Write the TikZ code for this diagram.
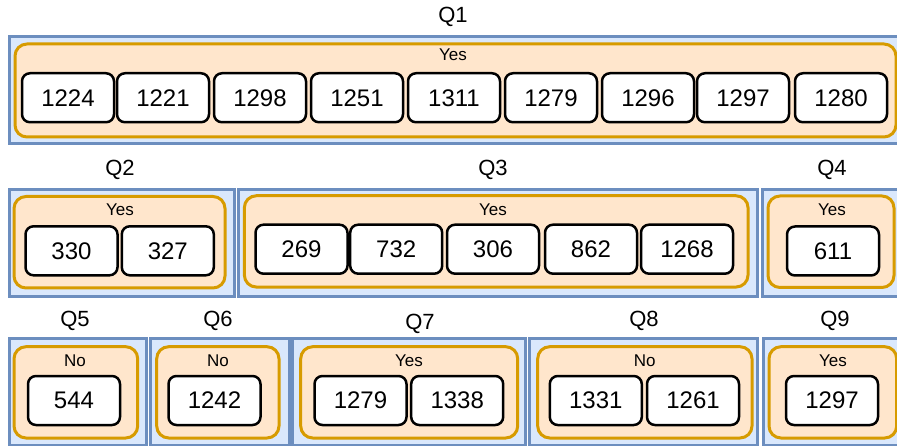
\documentclass[tikz,border=0pt]{standalone}
\usepackage{fontspec}
\setmainfont{Liberation Sans}
\usetikzlibrary{positioning}
\definecolor{qfill}{HTML}{DAE8FC}
\definecolor{qline}{HTML}{6C8EBF}
\definecolor{afill}{HTML}{FFE6CC}
\definecolor{aline}{HTML}{D79B00}

\begin{document}
\begin{tikzpicture}[x=1pt, y=-1pt,
    question/.style={draw=qline, fill=qfill, line width=3pt, rectangle, inner sep=0pt},
    answer/.style={draw=aline, fill=afill, line width=3pt, rectangle, rounded corners=12pt, inner sep=0pt},
    item/.style={draw=black, fill=white, line width=2.5pt, rectangle, rounded corners=8pt, minimum width=92pt, minimum height=49pt, inner sep=0pt, font=\fontsize{24}{28}\selectfont},
    qlabel/.style={inner sep=0pt, font=\fontsize{22}{26}\selectfont},
    alabel/.style={inner sep=0pt, font=\fontsize{17}{20}\selectfont}
  ]
  \useasboundingbox (0,0) rectangle (897,446);
  \clip (0,0) rectangle (897,446);

  % Q1
  \node[qlabel] (q1lbl) at (453, 17) {Q1};
  \node[question, minimum width=896pt, minimum height=106.5pt] (q1) at (457, 90.25) {};
  \node[answer, minimum width=881pt, minimum height=93pt] (q1ans) at (455.5, 90.5) {};
  \node[alabel] (q1yes) at (453, 55) {Yes};
  \node[item] (q1a) at (68, 97.75) {1224};
  \node[item] (q1b) at (163, 97.75) {1221};
  \node[item] (q1c) at (260, 97.75) {1298};
  \node[item] (q1d) at (357, 97.75) {1251};
  \node[item] (q1e) at (454, 97.75) {1311};
  \node[item] (q1f) at (551, 97.75) {1279};
  \node[item] (q1g) at (648, 97.75) {1296};
  \node[item] (q1h) at (743, 97.75) {1297};
  \node[item] (q1i) at (841, 97.75) {1280};

  % Q2 .. Q4
  \node[qlabel] (q2lbl) at (120, 170) {Q2};
  \node[question, minimum width=224.5pt, minimum height=107pt] (q2) at (121.75, 243) {};
  \node[answer, minimum width=211pt, minimum height=91.5pt] (q2ans) at (119.5, 242.25) {};
  \node[alabel] (q2yes) at (120, 210) {Yes};
  \node[item] (q2a) at (71.5, 250.8) {330};
  \node[item] (q2b) at (167.8, 250.8) {327};

  \node[qlabel] (q3lbl) at (493, 170) {Q3};
  \node[question, minimum width=519pt, minimum height=106.5pt] (q3) at (497.5, 243.25) {};
  \node[answer, minimum width=503.7pt, minimum height=91.3pt] (q3ans) at (496.2, 241.4) {};
  \node[alabel] (q3yes) at (493, 210) {Yes};
  \node[item] (q3a) at (301.5, 249.2) {269};
  \node[item] (q3b) at (396.2, 249.2) {732};
  \node[item] (q3c) at (493, 249.2) {306};
  \node[item] (q3d) at (591, 249.2) {862};
  \node[item] (q3e) at (687, 249.2) {1268};

  \node[qlabel] (q4lbl) at (832, 170) {Q4};
  \node[question, minimum width=143pt, minimum height=106.5pt] (q4) at (833.5, 243.25) {};
  \node[answer, minimum width=126pt, minimum height=91.5pt] (q4ans) at (831, 241.75) {};
  \node[alabel] (q4yes) at (832, 210) {Yes};
  \node[item] (q4a) at (833, 251) {611};

  % Q5 .. Q9
  \node[qlabel] (q5lbl) at (75, 321) {Q5};
  \node[question, minimum width=137.2pt, minimum height=106pt] (q5) at (78.1, 392) {};
  \node[answer, minimum width=123.7pt, minimum height=91.3pt] (q5ans) at (75.85, 392.35) {};
  \node[alabel] (q5no) at (75, 361) {No};
  \node[item] (q5a) at (74, 400.5) {544};

  \node[qlabel] (q6lbl) at (218, 321) {Q6};
  \node[question, minimum width=138.3pt, minimum height=106pt] (q6) at (219.85, 392) {};
  \node[answer, minimum width=122.3pt, minimum height=91.3pt] (q6ans) at (217.85, 392.35) {};
  \node[alabel] (q6no) at (218, 361) {No};
  \node[item] (q6a) at (214.5, 400.5) {1242};

  \node[qlabel] (q7lbl) at (420, 324) {Q7};
  \node[question, minimum width=232.3pt, minimum height=106pt] (q7) at (408.85, 392) {};
  \node[answer, minimum width=217pt, minimum height=91.3pt] (q7ans) at (409.2, 392.35) {};
  \node[alabel] (q7yes) at (409, 361) {Yes};
  \node[item] (q7a) at (360.5, 400.5) {1279};
  \node[item] (q7b) at (457.2, 400.5) {1338};

  \node[qlabel] (q8lbl) at (644, 321) {Q8};
  \node[question, minimum width=228.7pt, minimum height=106pt] (q8) at (643.35, 392) {};
  \node[answer, minimum width=214.3pt, minimum height=91.3pt] (q8ans) at (644.85, 392.35) {};
  \node[alabel] (q8no) at (644.7, 361) {No};
  \node[item] (q8a) at (595.8, 400.5) {1331};
  \node[item] (q8b) at (693, 400.5) {1261};

  \node[qlabel] (q9lbl) at (835, 321) {Q9};
  \node[question, minimum width=142pt, minimum height=106pt] (q9) at (834, 392) {};
  \node[answer, minimum width=127.7pt, minimum height=91.3pt] (q9ans) at (832.85, 392.35) {};
  \node[alabel] (q9yes) at (833, 361) {Yes};
  \node[item] (q9a) at (832, 400.5) {1297};
\end{tikzpicture}
\end{document}
